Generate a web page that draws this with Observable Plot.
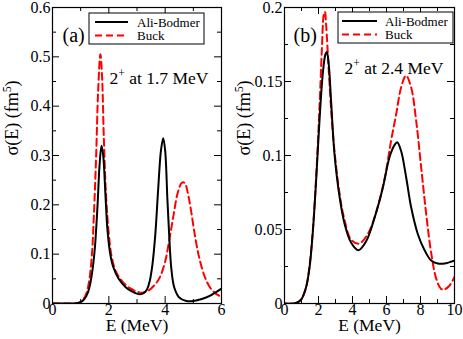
<!DOCTYPE html>
<html><head><meta charset="utf-8">
<script src="https://cdn.jsdelivr.net/npm/d3@7"></script>
<script src="https://cdn.jsdelivr.net/npm/@observablehq/plot@0.6"></script>
<style>
body{margin:0;background:#fff;}
#wrap{display:flex;width:463px;height:339px;}
#wrap svg{display:block;}
</style></head><body><div id="wrap"></div>
<script>
// ---- data ----
const seriesNames = ["Ali-Bodmer", "Buck"];

// Panel (a): 2+ at 1.7 MeV
const aE_AliBodmer = [0, 0.5, 0.9, 1.0, 1.1, 1.2, 1.3, 1.4, 1.5, 1.6, 1.67, 1.74, 1.8, 1.88, 1.95, 2.05, 2.15, 2.35, 2.6, 2.8, 3.05, 3.2, 3.35, 3.45, 3.55, 3.65, 3.75, 3.85, 3.93, 4.0, 4.08, 4.15, 4.22, 4.32, 4.5, 4.75, 5.0, 5.3, 5.6, 6.0];
const aS_AliBodmer = [0, 0, 0.001, 0.003, 0.007, 0.015, 0.03, 0.06, 0.11, 0.2, 0.28, 0.32, 0.3, 0.22, 0.15, 0.1, 0.075, 0.05, 0.033, 0.025, 0.019, 0.02, 0.028, 0.045, 0.08, 0.14, 0.23, 0.31, 0.335, 0.31, 0.21, 0.13, 0.07, 0.033, 0.012, 0.005, 0.005, 0.009, 0.016, 0.03];
const aE_Buck = [0, 0.5, 0.9, 1.0, 1.1, 1.2, 1.3, 1.4, 1.47, 1.55, 1.62, 1.7, 1.76, 1.82, 1.9, 2.0, 2.1, 2.25, 2.5, 2.75, 3.0, 3.2, 3.4, 3.6, 3.8, 4.0, 4.15, 4.3, 4.45, 4.6, 4.7, 4.8, 4.9, 5.05, 5.2, 5.4, 5.6, 5.8, 6.0];
const aS_Buck = [0, 0, 0.001, 0.004, 0.009, 0.02, 0.045, 0.1, 0.18, 0.3, 0.43, 0.505, 0.46, 0.34, 0.22, 0.14, 0.095, 0.065, 0.043, 0.031, 0.024, 0.022, 0.026, 0.036, 0.052, 0.085, 0.13, 0.18, 0.225, 0.245, 0.244, 0.225, 0.195, 0.14, 0.095, 0.055, 0.032, 0.02, 0.013];

// Panel (b): 2+ at 2.4 MeV
const bE_AliBodmer = [0, 0.5, 0.8, 1.0, 1.27, 1.47, 1.67, 1.86, 2.06, 2.25, 2.4, 2.49, 2.6, 2.75, 2.94, 3.24, 3.53, 3.92, 4.35, 4.8, 5.3, 5.78, 6.18, 6.47, 6.63, 6.86, 7.16, 7.45, 7.84, 8.24, 8.63, 9.02, 9.41, 10];
const bS_AliBodmer = [0, 0, 0.001, 0.003, 0.011, 0.024, 0.049, 0.083, 0.124, 0.155, 0.168, 0.17, 0.162, 0.135, 0.101, 0.072, 0.054, 0.041, 0.036, 0.042, 0.058, 0.078, 0.099, 0.107, 0.109, 0.103, 0.085, 0.065, 0.047, 0.036, 0.029, 0.027, 0.027, 0.029];
const bE_Buck = [0, 0.5, 0.8, 1.0, 1.27, 1.47, 1.67, 1.86, 2.06, 2.2, 2.31, 2.38, 2.45, 2.6, 2.75, 2.94, 3.24, 3.5, 3.92, 4.4, 4.9, 5.4, 5.9, 6.27, 6.57, 6.86, 7.15, 7.45, 7.75, 8.04, 8.33, 8.63, 8.92, 9.2, 9.4, 9.7, 10];
const bS_Buck = [0, 0, 0.001, 0.003, 0.011, 0.025, 0.05, 0.085, 0.133, 0.172, 0.195, 0.197, 0.188, 0.158, 0.13, 0.103, 0.074, 0.058, 0.043, 0.0405, 0.047, 0.062, 0.085, 0.11, 0.128, 0.146, 0.154, 0.146, 0.123, 0.092, 0.061, 0.034, 0.017, 0.01, 0.0095, 0.012, 0.018];

// ticks & labels
const aXMajor = [0, 2, 4, 6];
const aXLabels = ["0", "2", "4", "6"];
const aXMinor = [1, 3, 5];
const aYMajor = [0, 0.1, 0.2, 0.3, 0.4, 0.5, 0.6];
const aYLabels = ["0", "0.1", "0.2", "0.3", "0.4", "0.5", "0.6"];
const aYMinor = [0.05, 0.15, 0.25, 0.35, 0.45, 0.55];

const bXMajor = [0, 2, 4, 6, 8, 10];
const bXLabels = ["0", "2", "4", "6", "8", "10"];
const bXMinor = [1, 3, 5, 7, 9];
const bYMajor = [0, 0.05, 0.1, 0.15, 0.2];
const bYLabels = ["0", "0.05", "0.1", "0.15", "0.2"];
const bYMinor = [0.025, 0.075, 0.125, 0.175];

const xTitle = "E (MeV)";
const yTitleParts = [["σ(E) (fm", false], ["5", true], [")", false]];
const aTag = "(a)";
const bTag = "(b)";
const aNoteParts = [["2", false], ["+", true], [" at 1.7 MeV", false]];
const bNoteParts = [["2", false], ["+", true], [" at 2.4 MeV", false]];

// ---- drawing ----
const FONT = "'Liberation Serif', 'Times New Roman', serif";
const colors = ["#000000", "#ff0000"];
const dashes = [null, "7,4"];

function rows(E, S, name) { return E.map((e, i) => ({E: e, s: S[i], series: name})); }

function applyParts(textEl, parts, fs) {
  const t = d3.select(textEl);
  t.text(null);
  let shifted = false;
  parts.forEach(([str, sup]) => {
    const sp = t.append("tspan").text(str);
    if (sup && !shifted) { sp.attr("dy", -fs * 0.42).attr("font-size", fs * 0.66); shifted = true; }
    else if (!sup && shifted) { sp.attr("dy", fs * 0.42); shifted = false; }
  });
}

function panel(cfg) {
  const H = 339, mt = 7, mb = 36;
  const innerH = H - mt - mb;
  const innerW = cfg.width - cfg.ml - cfg.mr;
  const data = [rows(cfg.E1, cfg.S1, seriesNames[0]), rows(cfg.E2, cfg.S2, seriesNames[1])];
  const maj = 7, mnr = 4;
  const svg = Plot.plot({
    width: cfg.width, height: H,
    marginLeft: cfg.ml, marginRight: cfg.mr, marginTop: mt, marginBottom: mb,
    style: {fontSize: "16px", background: "white", color: "black"},
    x: {domain: cfg.xDomain, ticks: cfg.xMajor, tickSize: 0, tickPadding: 0,
        tickFormat: d => cfg.xLabels[cfg.xMajor.indexOf(d)], label: null},
    y: {domain: cfg.yDomain, ticks: cfg.yMajor, tickSize: 0, tickPadding: 2,
        tickFormat: d => cfg.yLabels[cfg.yMajor.indexOf(d)], label: null},
    marks: [
      Plot.tickX(cfg.xMajor, {x: d => d, insetTop: innerH - maj, stroke: "black"}),
      Plot.tickX(cfg.xMajor, {x: d => d, insetBottom: innerH - maj, stroke: "black"}),
      Plot.tickX(cfg.xMinor, {x: d => d, insetTop: innerH - mnr, stroke: "black"}),
      Plot.tickX(cfg.xMinor, {x: d => d, insetBottom: innerH - mnr, stroke: "black"}),
      Plot.tickY(cfg.yMajor, {y: d => d, insetRight: innerW - maj, stroke: "black"}),
      Plot.tickY(cfg.yMajor, {y: d => d, insetLeft: innerW - maj, stroke: "black"}),
      Plot.tickY(cfg.yMinor, {y: d => d, insetRight: innerW - mnr, stroke: "black"}),
      Plot.tickY(cfg.yMinor, {y: d => d, insetLeft: innerW - mnr, stroke: "black"}),
      Plot.line(data[1], {x: "E", y: "s", stroke: colors[1], strokeWidth: 2, strokeDasharray: dashes[1], curve: "catmull-rom", clip: true}),
      Plot.line(data[0], {x: "E", y: "s", stroke: colors[0], strokeWidth: 2, curve: "catmull-rom", clip: true}),
      Plot.frame({stroke: "black", strokeWidth: 1.2}),
      Plot.text([xTitle], {text: d => d, frameAnchor: "bottom", dy: 27.5, fontSize: 17.5}),
      Plot.text(["YTITLE"], {text: d => d, frameAnchor: "left", rotate: -90, dx: -40, fontSize: 18}),
      Plot.text([cfg.tag], {text: d => d, frameAnchor: "top-left", textAnchor: "start", dx: cfg.tagDx, dy: 20, fontSize: 20}),
      Plot.text(["NOTE"], {text: d => d, frameAnchor: "top-left", textAnchor: "start", dx: cfg.noteDx, dy: cfg.noteDy, fontSize: 17.5})
    ]
  });
  const s = d3.select(svg);
  s.selectAll("text").each(function() {
    if (this.textContent === "YTITLE") applyParts(this, yTitleParts, 18);
    if (this.textContent === "NOTE") applyParts(this, cfg.noteParts, 17.5);
  });
  // legend
  const L = cfg.legend;
  const g = s.append("g").attr("font-size", 13).attr("text-anchor", "start");
  g.append("rect").attr("x", L.x).attr("y", L.y).attr("width", L.w).attr("height", L.h)
    .attr("fill", "white").attr("stroke", "black").attr("stroke-width", 1);
  seriesNames.forEach((name, i) => {
    const yy = L.y + 9 + i * 13.5;
    g.append("line").attr("x1", L.x + L.lx0).attr("x2", L.x + L.lx1).attr("y1", yy).attr("y2", yy)
      .attr("stroke", colors[i]).attr("stroke-width", 2).attr("stroke-dasharray", dashes[i]);
    g.append("text").attr("x", L.x + L.tx).attr("y", yy).attr("dy", "0.35em").attr("fill", "black")
      .attr("text-anchor", "start").text(name);
  });
  // serif font on every text element
  s.attr("font-family", FONT).style("font-family", FONT);
  s.selectAll("g").attr("font-family", null);
  s.selectAll("text, tspan").attr("font-family", FONT).style("font-family", FONT);
  return svg;
}

const wrap = document.getElementById("wrap");
wrap.appendChild(panel({
  width: 231, ml: 52, mr: 10, xDomain: [0, 6], yDomain: [0, 0.6],
  E1: aE_AliBodmer, S1: aS_AliBodmer, E2: aE_Buck, S2: aS_Buck,
  xMajor: aXMajor, xLabels: aXLabels, xMinor: aXMinor,
  yMajor: aYMajor, yLabels: aYLabels, yMinor: aYMinor,
  tag: aTag, tagDx: 10, noteParts: aNoteParts, noteDx: 57, noteDy: 64,
  legend: {x: 89, y: 13, w: 115, h: 31, lx0: 6, lx1: 39, tx: 48}
}));
wrap.appendChild(panel({
  width: 232, ml: 53, mr: 9, xDomain: [0, 10], yDomain: [0, 0.2],
  E1: bE_AliBodmer, S1: bS_AliBodmer, E2: bE_Buck, S2: bS_Buck,
  xMajor: bXMajor, xLabels: bXLabels, xMinor: bXMinor,
  yMajor: bYMajor, yLabels: bYLabels, yMinor: bYMinor,
  tag: bTag, tagDx: 9, noteParts: bNoteParts, noteDx: 60, noteDy: 54,
  legend: {x: 107, y: 12, w: 115, h: 31, lx0: 4, lx1: 39, tx: 47}
}));
</script></body></html>
